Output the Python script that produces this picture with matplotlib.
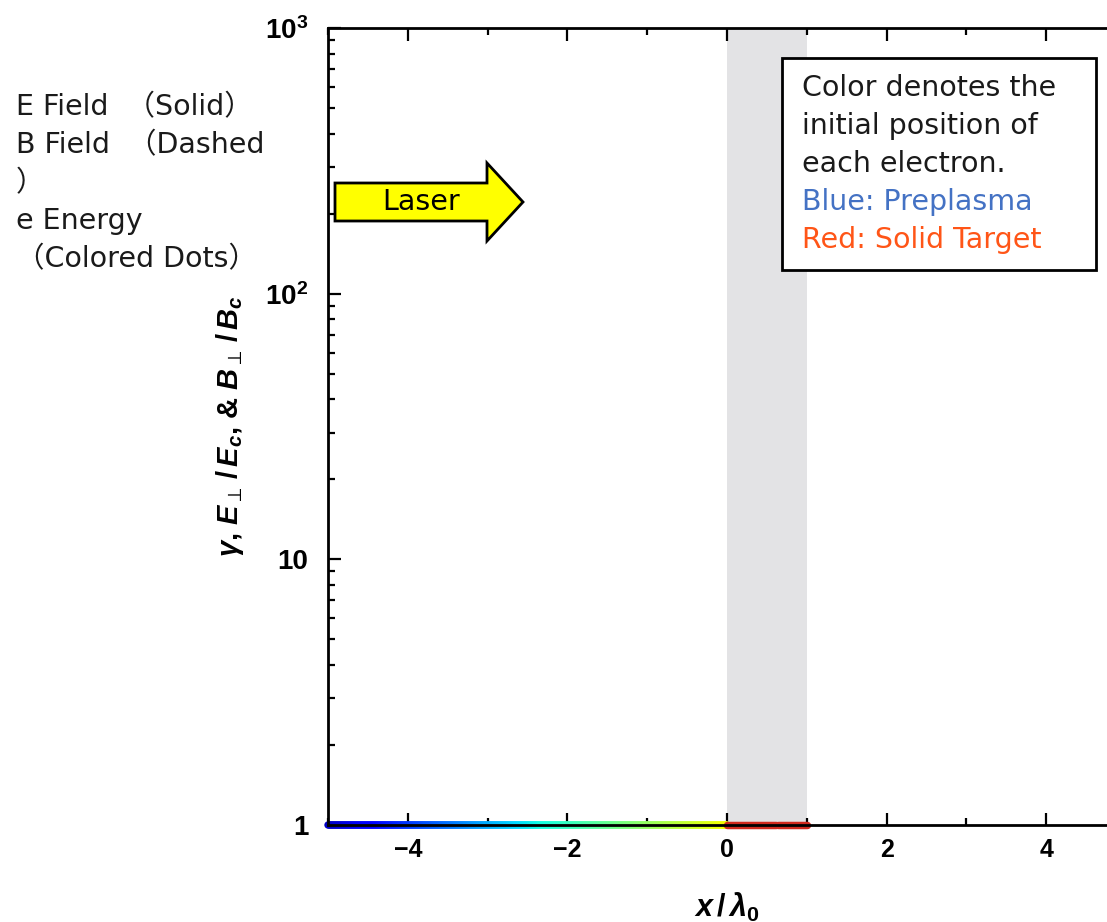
"""Electron energy and field strengths along the laser axis (log scale)."""

import matplotlib

matplotlib.use("Agg")

import numpy as np
from matplotlib import pyplot as plt
from matplotlib import ticker
from matplotlib.patches import FancyArrow

# Initial electron positions (in laser wavelengths) and their Lorentz factor.
preplasma_x = np.linspace(-5.0, 0.0, 400)
preplasma_gamma = np.ones_like(preplasma_x)
target_x = np.linspace(0.0, 1.0, 80)
target_gamma = np.ones_like(target_x)

# Solid target slab and axis settings.
target_span = (0.0, 1.0)
x_limits = (-5.0, 5.0)
y_limits = (1.0, 1000.0)
x_major = [-4, -2, 0, 2, 4]
y_major = [1, 10, 100, 1000]
y_major_labels = ["1", "10", r"$10^2$", r"$10^3$"]

legend_lines = ["E Field  （Solid）", "B Field  （Dashed", "）", "e Energy", "（Colored Dots）"]
note_lines = ["Color denotes the", "initial position of", "each electron."]
note_blue = "Blue: Preplasma"
note_red = "Red: Solid Target"

plt.rcParams["mathtext.fontset"] = "custom"
plt.rcParams["mathtext.rm"] = "Liberation Sans:bold"
plt.rcParams["mathtext.it"] = "Liberation Sans:italic:bold"
plt.rcParams["mathtext.bf"] = "Liberation Sans:bold"

W, H = 1107, 922
fig = plt.figure(figsize=(W / 100, H / 100), dpi=100, facecolor="white")

ax_left, ax_right, ax_top, ax_bottom = 328, 1126, 28, 825
ax = fig.add_axes([
    ax_left / W,
    1 - ax_bottom / H,
    (ax_right - ax_left) / W,
    (ax_bottom - ax_top) / H,
])
ax.set_yscale("log")
ax.set_xlim(*x_limits)
ax.set_ylim(*y_limits)

ax.axvspan(*target_span, color="#e3e3e5", lw=0, zorder=0)

# Electron markers coloured by where each one started (sit under the spine).
ax.scatter(preplasma_x, preplasma_gamma, c=preplasma_x, cmap="jet",
           vmin=-5.5, vmax=3.0, s=28, lw=0, clip_on=False, zorder=2)
ax.scatter(target_x, target_gamma, color="#d02a1e", s=28, lw=0,
           clip_on=False, zorder=2)

for side in ax.spines.values():
    side.set_linewidth(2.0)

ax.set_xticks(x_major)
ax.xaxis.set_minor_locator(ticker.MultipleLocator(1))
ax.xaxis.set_major_formatter(ticker.FuncFormatter(lambda v, _: f"{v:.0f}".replace("-", "\u2212")))
ax.set_yticks(y_major)
ax.set_yticklabels(y_major_labels)
ax.yaxis.set_minor_locator(ticker.LogLocator(base=10, subs=np.arange(2, 10)))
ax.yaxis.set_minor_formatter(ticker.NullFormatter())

ax.tick_params(which="both", direction="in", top=True, right=True, width=1.6)
ax.tick_params(which="major", length=9)
ax.tick_params(which="minor", length=5)
ax.tick_params(axis="x", labelsize=18, pad=9)
ax.tick_params(axis="y", labelsize=20, pad=14)
for lab in ax.get_xticklabels() + ax.get_yticklabels():
    lab.set_fontfamily("Liberation Sans")
    lab.set_fontweight("bold")

ax.set_xlabel(r"$x\,/\,\lambda_0$", fontsize=22, labelpad=21)
ax.set_ylabel(r"$\gamma$, $E_{\perp}\,/\,E_c$, & $B_{\perp}\,/\,B_c$",
              fontsize=21, fontweight="bold", family="Liberation Sans", labelpad=14)

# Laser direction arrow.
axis_w = ax_right - ax_left
axis_h = ax_bottom - ax_top
arrow = FancyArrow(
    (335 - ax_left) / axis_w, (ax_bottom - 202) / axis_h,
    (523 - 335) / axis_w, 0,
    width=38 / axis_h, head_width=78 / axis_h, head_length=36 / axis_w,
    length_includes_head=True, transform=ax.transAxes,
    facecolor="#ffff00", edgecolor="black", linewidth=2, zorder=6,
)
ax.add_patch(arrow)

txt_font = ["DejaVu Sans", "Noto Sans CJK JP"]
txt_size = 20.5
ax.text((421 - ax_left) / axis_w, (ax_bottom - 202) / axis_h, "Laser",
        transform=ax.transAxes, ha="center", va="center", fontsize=txt_size,
        family=txt_font, zorder=7)

# Legend-style notes on the left margin.
for i, line in enumerate(legend_lines):
    fig.text(16 / W, 1 - (107 + 38.1 * i) / H, line, ha="left", va="center",
             fontsize=txt_size, family=txt_font, color="#1a1a1a")

# Boxed note explaining the colour scale.
box = plt.Rectangle((782 / W, 1 - 270 / H), (1096 - 782) / W, (270 - 58) / H,
                    transform=fig.transFigure, facecolor="white",
                    edgecolor="black", linewidth=2, zorder=8)
fig.add_artist(box)
note_all = note_lines + [note_blue, note_red]
note_colors = ["#1a1a1a"] * len(note_lines) + ["#4472c4", "#ff5517"]
for i, (line, col) in enumerate(zip(note_all, note_colors)):
    fig.text(802 / W, 1 - (88.5 + 38 * i) / H, line, ha="left", va="center",
             fontsize=txt_size, family=txt_font, color=col, zorder=9)

fig.savefig("out.png", dpi=100, facecolor="white")
